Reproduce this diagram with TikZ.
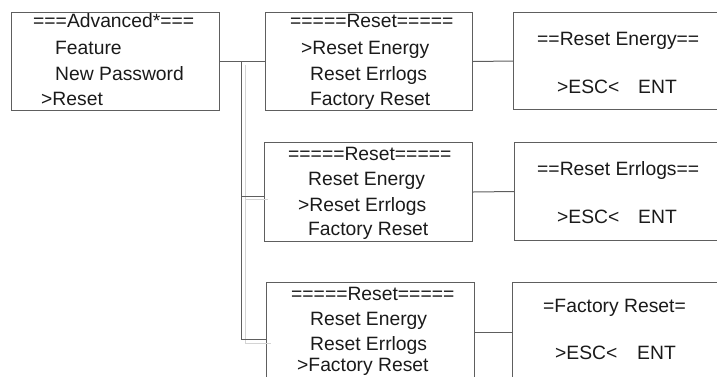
\documentclass[tikz,border=0pt]{standalone}
\usepackage{fontspec}
\setmainfont{Liberation Sans}
\usetikzlibrary{calc}
\definecolor{edge}{HTML}{5E5E5E}
\definecolor{faint}{HTML}{D4D4D4}
\definecolor{ink}{HTML}{1A1A1A}
\tikzset{
  menubox/.style={draw=edge, line width=1pt, rectangle, inner sep=0pt, anchor=north west},
  conn/.style={draw=edge, line width=1pt},
  shadowline/.style={draw=faint, line width=1pt},
  txt/.style={anchor=base west, inner sep=0pt, text=ink, font=\fontsize{19.3}{23}\selectfont}
}
\begin{document}
\begin{tikzpicture}[x=1pt,y=-1pt]
\useasboundingbox (0,0) rectangle (717,376);
\clip (0,0) rectangle (717,376);
% boxes
\node[menubox, minimum width=208pt, minimum height=98pt] (A) at (11,12) {};
\node[menubox, minimum width=207pt, minimum height=98pt] (B1) at (265,12) {};
\node[menubox, minimum width=220pt, minimum height=97pt] (C1) at (513,12) {};
\node[menubox, minimum width=208pt, minimum height=99pt] (B2) at (264,142) {};
\node[menubox, minimum width=220pt, minimum height=98pt] (C2) at (514,142) {};
\node[menubox, minimum width=208pt, minimum height=100pt] (B3) at (266,282) {};
\node[menubox, minimum width=220pt, minimum height=100pt] (C3) at (512,282) {};
% faint shadow lines
\coordinate (s0) at (245,65);
\coordinate (s1) at (268,199);
\coordinate (s2) at (271,343);
\draw[shadowline] (s0) -- (s0 |- s2) -- (s2);
\draw[shadowline] (s0 |- s1) -- (s1);
% connectors
\coordinate (j) at (241,61);
\draw[conn] (A.east) -- (B1.west);
\draw[conn] (j) |- ($(B2.west)+(0,4.5)$);
\draw[conn] (j) |- ($(B3.west)+(0,7)$);
\draw[conn] (B1.east) -- (C1.west);
\draw[conn] (B2.east) -- (C2.west);
\draw[conn] (B3.east) -- (C3.west);
% texts box A
\node[txt] (a1) at (33,27) {===Advanced*===};
\node[txt] (a2) at (55,54) {Feature};
\node[txt] (a3) at (55,80) {New Password};
\node[txt] (a4) at (41,105) {>Reset};
% box B1
\node[txt] (b11) at (290,27) {=====Reset=====};
\node[txt] (b12) at (301,54) {>Reset Energy};
\node[txt] (b13) at (310,80) {Reset Errlogs};
\node[txt] (b14) at (310,105) {Factory Reset};
% box B2
\node[txt] (b21) at (288,160) {=====Reset=====};
\node[txt] (b22) at (308,185) {Reset Energy};
\node[txt] (b23) at (298,211) {>Reset Errlogs};
\node[txt] (b24) at (308,235) {Factory Reset};
% box B3
\node[txt] (b31) at (291,300) {=====Reset=====};
\node[txt] (b32) at (310,325) {Reset Energy};
\node[txt] (b33) at (310,350) {Reset Errlogs};
\node[txt] (b34) at (297,371) {>Factory Reset};
% C boxes
\node[txt] (c11) at (537,45) {==Reset Energy==};
\node[txt] (c12) at (557,93) {>ESC<};
\node[txt] (c13) at (638,93) {ENT};
\node[txt] (c21) at (537,175) {==Reset Errlogs==};
\node[txt] (c22) at (557,223) {>ESC<};
\node[txt] (c23) at (638,223) {ENT};
\node[txt] (c31) at (543,312) {=Factory Reset=};
\node[txt] (c32) at (555,359) {>ESC<};
\node[txt] (c33) at (637,359) {ENT};
\end{tikzpicture}
\end{document}
